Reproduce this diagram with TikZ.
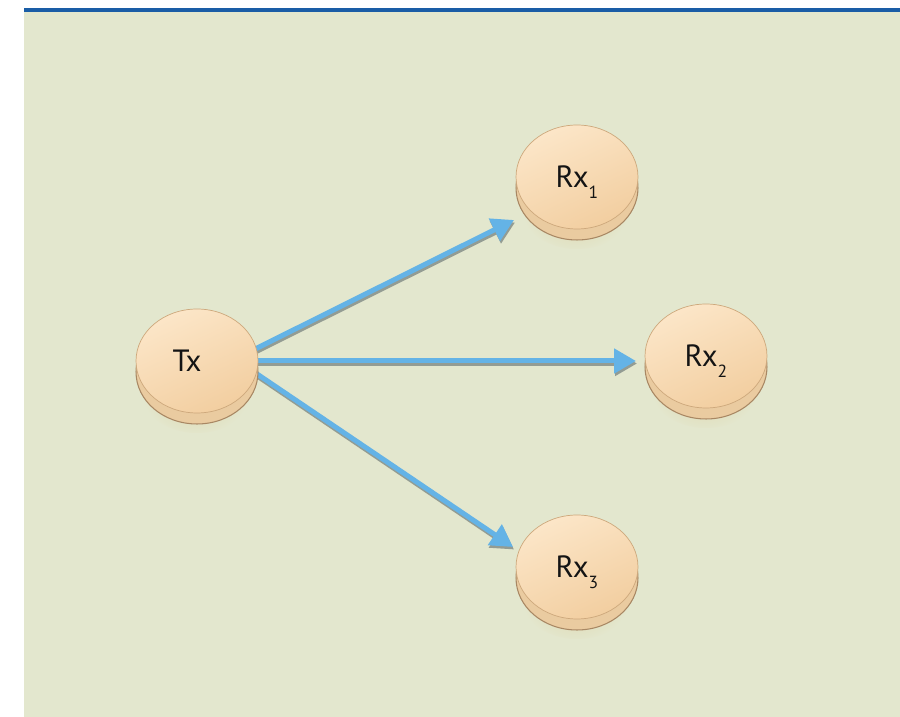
\documentclass[tikz,border=0pt]{standalone}
\usepackage{fontspec}
\setmainfont{PT Sans}
\usetikzlibrary{arrows.meta,calc,shapes.geometric,shadows}
\definecolor{RxPanel}{HTML}{E3E7CE}
\definecolor{RxRule}{HTML}{1A5DA6}
\definecolor{RxFaceLight}{HTML}{FCE6C8}
\definecolor{RxFaceDark}{HTML}{F2CEA0}
\definecolor{RxEdge}{HTML}{CDA87C}
\definecolor{RxSide}{HTML}{EACBA0}
\definecolor{RxRim}{HTML}{A88763}
\definecolor{RxGround}{HTML}{DDCF9E}
\definecolor{RxLink}{HTML}{64B3E6}
\definecolor{RxLinkShade}{HTML}{939C93}
\definecolor{RxInk}{HTML}{141414}
\newcommand{\rxsub}[1]{\raisebox{-6pt}[0pt][0pt]{\fontsize{10}{12}\selectfont #1}}
\pgfdeclarelayer{bg}
\pgfdeclarelayer{links}
\pgfsetlayers{bg,links,main}

\begin{document}
\begin{tikzpicture}[
    x=0.02cm,y=0.02cm,
    disk/.style={ellipse,minimum width=2.44cm,minimum height=2.08cm,inner sep=0pt,
      draw=RxEdge,line width=0.4pt,top color=RxFaceLight,bottom color=RxFaceDark,shading angle=25,
      general shadow={shadow yshift=-0.4cm,shade,inner color=RxGround,outer color=RxPanel,draw=none},
      general shadow={shadow yshift=-0.22cm,fill=RxSide,draw=RxRim,line width=0.6pt}},
    disklabel/.style={font=\fontsize{17.5}{20}\selectfont,text=RxInk,inner sep=0pt},
    link/.style={-{Triangle[length=0.44cm,width=0.48cm]},line width=0.1cm,draw=RxLink,shorten <=-0.1cm},
    linkshade/.style={link,draw=RxLinkShade,transform canvas={shift={(0.02cm,-0.05cm)}}}
  ]
  \useasboundingbox (0,0) rectangle (900,717);
  \begin{pgfonlayer}{bg}
    \fill[RxPanel] (24,0) rectangle (900,705);
    \fill[RxRule] (24,705) rectangle (900,709);
  \end{pgfonlayer}

  % transmitter and receivers
  \node[disk,label={[disklabel,xshift=-0.2cm]center:Tx}] (Tx) at (197,356) {};
  \node[disk,label={[disklabel]center:Rx\rxsub{1}}] (Rx1) at (577,540) {};
  \node[disk,label={[disklabel]center:Rx\rxsub{2}}] (Rx2) at (706,361) {};
  \node[disk,label={[disklabel]center:Rx\rxsub{3}}] (Rx3) at (577,150) {};

  \coordinate (in1) at ($(Rx1.center)+(-63,-43)$);
  \coordinate (in2) at ($(Rx2.center)+(-70,-5)$);
  \coordinate (in3) at ($(Rx3.center)+(-64,20)$);

  % links
  \begin{pgfonlayer}{links}
    \foreach \src/\dst in {Tx.12/in1,Tx.east/in2,Tx.348/in3}{
      \draw[linkshade] (\src) -- (\dst);
      \draw[link] (\src) -- (\dst);
    }
  \end{pgfonlayer}
\end{tikzpicture}
\end{document}
